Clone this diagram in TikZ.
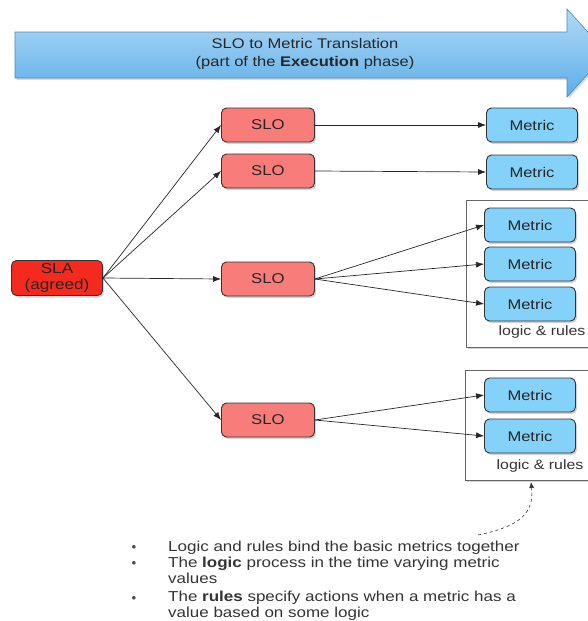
\documentclass[tikz,border=0pt]{standalone}
\usepackage{fontspec}
\setmainfont[FakeStretch=1.18]{Liberation Sans}
\usetikzlibrary{arrows.meta, shadows}

\definecolor{slared}{HTML}{F42A1E}
\definecolor{slopink}{HTML}{F87C7A}
\definecolor{metricblue}{HTML}{84D2FA}
\definecolor{bannertop}{HTML}{B2DAF6}
\definecolor{bannerbot}{HTML}{5CAEE8}

\tikzset{
  box/.style={draw=black!80, line width=0.9pt, rounded corners=5pt, minimum height=34pt, text=black!85,
    font=\fontsize{14.2}{15}\selectfont,
    drop shadow={shadow xshift=1.5pt, shadow yshift=-2pt, opacity=0.35}},
  sla/.style={box, fill=slared, minimum width=91pt, minimum height=35pt, align=center,
    font=\fontsize{14.5}{16}\selectfont, inner sep=1pt},
  slo/.style={box, fill=slopink, minimum width=93pt},
  metric/.style={box, fill=metricblue, minimum width=91pt, font=\fontsize{14}{15}\selectfont},
  group/.style={draw=black!60, fill=white,
    drop shadow={shadow xshift=1.5pt, shadow yshift=-2pt, opacity=0.35}},
  link/.style={-{Latex[length=8pt,width=6pt]}, black!85, line width=0.7pt},
  bullet/.style={anchor=north west, align=left, inner sep=0pt, text=black!80,
    font=\fontsize{14.4}{16}\selectfont}
}

\begin{document}
\begin{tikzpicture}[x=1pt, y=-1pt]
\useasboundingbox (0,0) rectangle (588,621);

% Banner arrow
\shade[top color=bannertop, bottom color=bannerbot, draw=bannerbot!80!black, line width=0.6pt,
  drop shadow={shadow xshift=1.5pt, shadow yshift=-2pt, opacity=0.3}]
  (15,32) -- (567,32) -- (567,9) -- (607,53) -- (567,97) -- (567,78) -- (15,78) -- cycle;
\node[font=\fontsize{14}{18}\selectfont, align=center, text=black!85] (title) at (305,54)
  {SLO to Metric Translation\\(part of the \textbf{Execution} phase)};

% Group boxes
\draw[group] (466,200) rectangle (600,347);
\draw[group] (465,370) rectangle (600,480);
\node[font=\fontsize{13.5}{14}\selectfont, text=black!80] (rules1) at (542,332) {logic \& rules};
\node[font=\fontsize{13.5}{14}\selectfont, text=black!80] (rules2) at (540,466) {logic \& rules};

% SLA and SLOs
\node[sla] (sla) at (57,278) {SLA\\(agreed)};
\node[slo] (slo1) at (268,125) {SLO};
\node[slo] (slo2) at (268,171) {SLO};
\node[slo] (slo3) at (268,279) {SLO};
\node[slo] (slo4) at (268,420) {SLO};

% Metrics
\node[metric] (m1) at (532,125) {Metric};
\node[metric] (m2) at (532,172) {Metric};
\node[metric] (m3) at (530,225) {Metric};
\node[metric] (m4) at (530,264) {Metric};
\node[metric] (m5) at (530,304) {Metric};
\node[metric] (m6) at (530,395) {Metric};
\node[metric] (m7) at (530,436) {Metric};

% Links
\foreach \s in {slo1,slo2,slo3,slo4}
  \draw[link] (sla.east) -- (\s.west);
\draw[link] (slo1.east) -- (m1.west);
\draw[link] (slo2.east) -- (m2.west);
\foreach \m in {m3,m4,m5}
  \draw[link] (slo3.east) -- (\m.west);
\foreach \m in {m6,m7}
  \draw[link] (slo4.east) -- (\m.west);

% Note
\coordinate (noteend) at (478,535);
\draw[-{Latex[length=6pt,width=5pt]}, dashed, black!80, line width=0.6pt]
  (noteend) .. controls (522,526) and (534,512) .. (531,482);

\foreach \y in {547,563,598}
  \node[font=\fontsize{9}{9}\selectfont, text=black!70] at (134,\y) {$\bullet$};
\node[bullet] (b1) at (168,541) {Logic and rules bind the basic metrics together\\
  The \textbf{logic} process in the time varying metric\\values};
\node[bullet] (b2) at (168,591) {The \textbf{rules} specify actions when a metric has a\\
  value based on some logic};
\end{tikzpicture}
\end{document}
